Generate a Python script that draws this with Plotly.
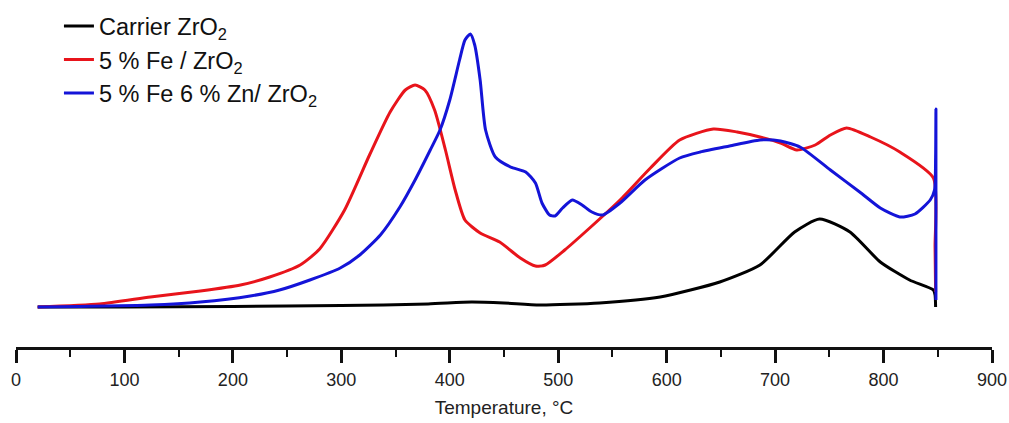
import plotly.graph_objects as go

# Temperatures (°C) and signal (arbitrary units)
t_carrier = [20, 100, 200, 300, 380, 420, 450, 483, 538, 594, 649, 686, 718, 741, 769, 797, 824, 846, 847.5, 848]
s_carrier = [0, 0, 0.5, 1.5, 3, 5, 4, 2, 4, 10, 25, 42, 75, 88, 75, 45, 27, 17, 12, 0]

t_fe = [20, 77, 124, 170, 207, 234, 262, 280, 303, 326, 345, 359, 368, 377, 386, 396, 405, 414, 428, 446,
        465, 479, 488, 506, 529, 557, 585, 612, 643, 665, 686, 705, 720, 737, 751, 766, 788, 815, 846, 847.5, 848]
s_fe = [0, 3, 10, 16, 22, 30, 42, 58, 97, 152, 195, 217, 222, 217, 197, 157, 117, 87, 74, 65,
        49, 41, 42, 57, 79, 107, 139, 167, 178, 175, 170, 164, 157, 162, 172, 179, 170, 155, 129, 60, 15]

t_fezn = [20, 124, 170, 216, 243, 271, 299, 317, 336, 354, 368, 382, 391, 400, 409, 414, 419, 423, 428, 433,
          442, 456, 470, 479, 485, 492, 497, 504, 513, 522, 531, 541, 557, 580, 612, 631, 658, 686, 705, 723,
          751, 778, 797, 815, 829, 843, 847, 848, 848.3, 848.3]
s_fezn = [0, 2, 5, 11, 17, 27, 39, 52, 72, 100, 127, 157, 177, 207, 247, 267, 273, 262, 227, 177,
          150, 140, 135, 124, 104, 92, 91, 99, 107, 102, 95, 92, 104, 127, 149, 155, 161, 167, 166, 160,
          137, 115, 99, 90, 93, 107, 117, 150, 198, 7]

x_ticks = [0, 100, 200, 300, 400, 500, 600, 700, 800, 900]

fig = go.Figure()
series = [
    ("Carrier ZrO<sub>2</sub>", t_carrier, s_carrier, "#000000"),
    ("5 % Fe / ZrO<sub>2</sub>", t_fe, s_fe, "#e8141b"),
    ("5 % Fe 6 % Zn/ ZrO<sub>2</sub>", t_fezn, s_fezn, "#1414d8"),
]
for i, (name, x, y, c) in enumerate(series):
    fig.add_trace(go.Scatter(x=x, y=y, mode="lines", name=name, legendgroup=f"g{i}",
                             line=dict(color=c, width=3, shape="spline", smoothing=0.6)))

fig.update_layout(
    width=1009, height=423,
    margin=dict(l=16, r=17, t=0, b=76),
    paper_bgcolor="white", plot_bgcolor="white",
    font=dict(family="Arial, Liberation Sans, sans-serif", color="#111111"),
    showlegend=True,
    legend=dict(x=0.044, y=0.988, xanchor="left", yanchor="top",
                font=dict(size=23.5, color="#111111"), bgcolor="rgba(0,0,0,0)",
                tracegroupgap=0, itemwidth=30),
)
fig.update_xaxes(
    range=[0, 900], tickvals=x_ticks, showgrid=False, zeroline=False,
    showline=True, linecolor="#111111", linewidth=2.5,
    ticks="outside", ticklen=13, tickwidth=2.5, tickcolor="#111111",
    tickfont=dict(size=18, color="#222222"), ticklabelstandoff=2,
    minor=dict(dtick=50, ticks="outside", ticklen=7, tickwidth=2, tickcolor="#111111"),
    title=dict(text="Temperature, °C", font=dict(size=19, color="#222222"), standoff=12),
)
fig.update_yaxes(range=[-40, 307], visible=False)

fig.write_html("out.html")
